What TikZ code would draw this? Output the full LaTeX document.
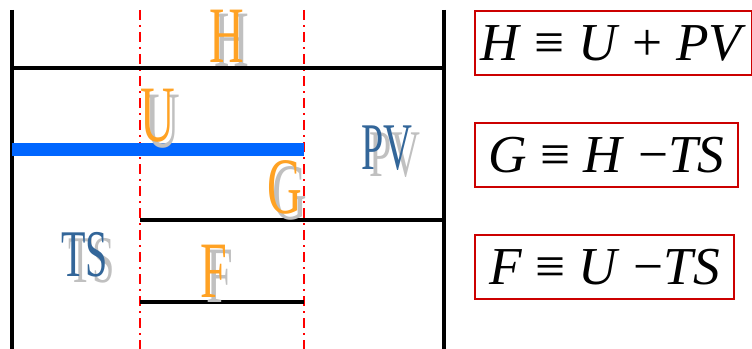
\documentclass[tikz,border=0pt]{standalone}
\usepackage{fontspec}
\newfontfamily\tnr{Liberation Serif}
\definecolor{letorange}{RGB}{255,162,36}
\definecolor{letgrey}{RGB}{192,192,192}
\definecolor{letblue}{RGB}{51,102,153}
\definecolor{barblue}{RGB}{0,102,255}
\definecolor{boxred}{RGB}{204,0,0}
\begin{document}
\begin{tikzpicture}[x=0.75pt,y=-0.75pt,
  wall/.style={line width=3pt},
  guide/.style={red, line width=1.5pt, dash pattern=on 7.5pt off 3.75pt on 1.5pt off 3.75pt},
  bar/.style={barblue, line width=9.75pt},
  big/.style={font=\tnr\fontsize{60}{60}\selectfont, inner sep=0pt, anchor=base, xscale=0.6, transform shape},
  mid/.style={font=\tnr\fontsize{50}{50}\selectfont, inner sep=0pt, anchor=base, xscale=0.6, transform shape},
  eqbox/.style={draw=boxred, line width=1.5pt, font=\tnr\fontsize{40}{40}\selectfont, minimum height=48pt, inner sep=0pt}]
\useasboundingbox (0,0) rectangle (752,349);
% coordinates
\coordinate (LT) at (12,10);
\coordinate (LB) at (12,349);
\coordinate (RT) at (444,10);
\coordinate (RB) at (444,349);
\coordinate (HL) at (12,68);
\coordinate (HR) at (444,68);
\coordinate (D1T) at (140,10);
\coordinate (D1B) at (140,349);
\coordinate (D2T) at (304,10);
\coordinate (D2B) at (304,349);
\coordinate (BL) at (12,149.5);
\coordinate (BR) at (304,149.5);
\coordinate (GL) at (140,220);
\coordinate (GR) at (444,220);
\coordinate (FL) at (140,302);
\coordinate (FR) at (304,302);
% lines
\draw[guide] (D1T) -- (D1B);
\draw[guide] (D2T) -- (D2B);
\draw[wall] (LT) -- (LB);
\draw[wall] (RT) -- (RB);
\draw[wall] (HL) -- (HR);
\draw[wall] (GL) -- (GR);
\draw[wall] (FL) -- (FR);
\draw[bar] (BL) -- (BR);
% letters
\node[big, letgrey] (Hs) at (232,67) {H};
\node[big, letorange] (H) at (227,63) {H};
\node[big, letgrey] (Us) at (163,147) {U};
\node[big, letorange] (U) at (157.5,142) {U};
\node[mid, letgrey] (PVs) at (395,176) {PV};
\node[mid, letblue] (PV) at (387,170) {PV};
\node[big, letgrey] (Gs) at (290,219) {G};
\node[big, letorange] (G) at (285,213) {G};
\node[mid, letgrey] (TSs) at (91.5,282) {TS};
\node[mid, letblue] (TS) at (84.5,276) {TS};
\node[big, letgrey] (Fs) at (220,302) {F};
\node[big, letorange] (F) at (214,297) {F};
% equation boxes
\node[eqbox, minimum width=207.75pt] (E1) at (613.5,43) {\textit{H} ≡ \textit{U} + \textit{PV}};
\node[eqbox, minimum width=197.25pt] (E2) at (606.5,155) {\textit{G} ≡ \textit{H} −\textit{TS}};
\node[eqbox, minimum width=194.25pt] (E3) at (604.5,267) {\textit{F} ≡ \textit{U} −\textit{TS}};
\end{tikzpicture}
\end{document}
